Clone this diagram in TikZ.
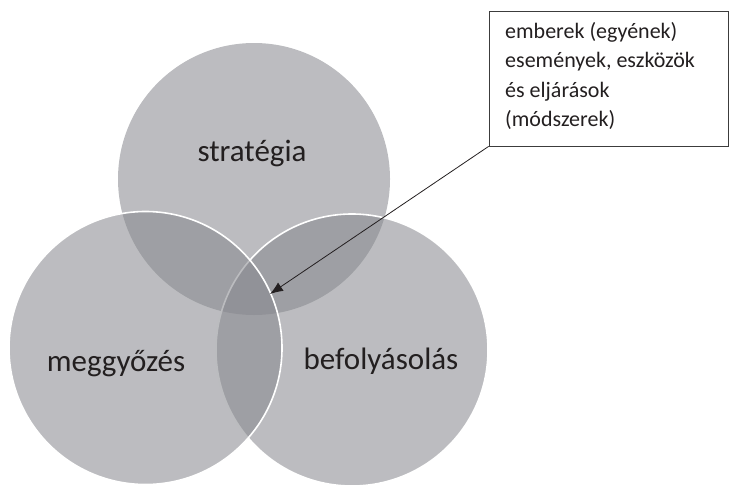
\documentclass[tikz,border=0pt]{standalone}
\usepackage{fontspec}
\setmainfont{Carlito}
\usetikzlibrary{arrows.meta}
\definecolor{circgray}{RGB}{135,136,142}
\definecolor{txtgray}{RGB}{35,31,32}
\definecolor{boxline}{RGB}{60,60,60}
\tikzset{
  venn/.style={fill=circgray, fill opacity=0.56},
  vennedge/.style={venn, draw=white, line width=1.6pt, draw opacity=1},
  clabel/.style={anchor=base, text=txtgray, font=\fontsize{31}{36}\selectfont},
  notebox/.style={draw=boxline, line width=0.8pt, minimum width=239pt, minimum height=135pt, inner sep=0pt},
  notetext/.style={anchor=base west, align=left, text=txtgray, inner sep=0pt, font=\fontsize{22}{29.5}\selectfont},
  pointer/.style={draw=txtgray, line width=0.8pt, -{Latex[length=13pt,width=10pt]}}
}
\begin{document}
\begin{tikzpicture}[x=1pt,y=-1pt]
\useasboundingbox (0,0) rectangle (730,485);
% circles
\path[venn] (254,179) circle[radius=136];
\path[vennedge] (352,350) circle[radius=136];
\path[vennedge] (145.5,348) circle[radius=136.5];
% labels
\node[clabel] (strat) at (252,161) {stratégia};
\node[clabel] (megg) at (116,371) {meggyőzés};
\node[clabel] (befo) at (381,369) {befolyásolás};
% note box
\node[notebox] (box) at (608.5,78.5) {};
\node[notetext] (boxtext) at (505,126.5) {emberek (egyének)\\események, eszközök\\és eljárások\\(módszerek)};
\coordinate (tip) at (270,294);
\draw[pointer] (box.south west) -- (tip);
\end{tikzpicture}
\end{document}
